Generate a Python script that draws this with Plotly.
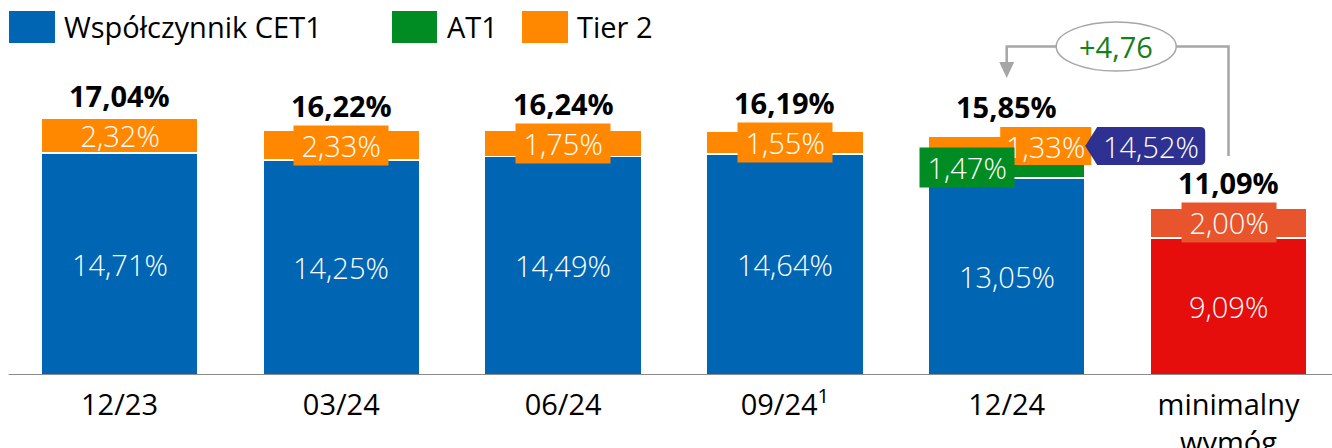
import plotly.graph_objects as go

# ---------------- data ----------------
categories = ["12/23", "03/24", "06/24", "09/24<sup>1</sup>", "12/24", "minimalny<br>wymóg"]
cet1 = [14.71, 14.25, 14.49, 14.64, 13.05, 9.09]
at1 = [0.00, 0.00, 0.00, 0.00, 1.47, 0.00]
tier2 = [2.32, 2.33, 1.75, 1.55, 1.33, 2.00]
totals = [17.04, 16.22, 16.24, 16.19, 15.85, 11.09]
tier1_1224 = 14.52
surplus = 4.76
legend_names = ["Współczynnik CET1", "AT1", "Tier 2"]

# ---------------- style ----------------
BLUE = "#0066B3"
GREEN = "#008C23"
ORANGE = "#FF8800"
RED = "#E60D0D"
ORANGE_RED = "#E8552D"
NAVY = "#2E3191"
GREY = "#A6A6A6"
TXT_GREEN = "#15801A"
FONT = "Open Sans"
FS = 29

W, H = 1332, 448
B_MARGIN = 73
PLOT_H = H - B_MARGIN
PX_PER_X = 221.8
PX_PER_Y = 15.08
X0 = -0.5388
X1 = X0 + W / PX_PER_X
Y1 = PLOT_H / PX_PER_Y
BAR_W = 157 / PX_PER_X


def dx(px):
    return px / PX_PER_X


def dy(px):
    return px / PX_PER_Y


def py2y(py):
    return (PLOT_H - py) / PX_PER_Y


def px2paper(px):
    return px / W


def py2paper(py):
    return 1 - py / PLOT_H


def fmt(v):
    return f"{v:.2f}".replace(".", ",") + "%"


NB = "\u00a0"
n = len(categories)
xs = list(range(n))
tier2_drawn = [round(totals[i] - cet1[i] - at1[i], 2) for i in range(n)]

fig = go.Figure()
line = dict(color="white", width=1.5)
fig.add_trace(go.Bar(x=xs, y=cet1, width=BAR_W, marker=dict(color=[BLUE] * (n - 1) + [RED], line=line),
                     hoverinfo="skip", showlegend=False))
fig.add_trace(go.Bar(x=xs, y=at1, width=BAR_W, marker=dict(color=GREEN, line=line),
                     hoverinfo="skip", showlegend=False))
fig.add_trace(go.Bar(x=xs, y=tier2_drawn, width=BAR_W,
                     marker=dict(color=[ORANGE] * (n - 1) + [ORANGE_RED], line=line),
                     hoverinfo="skip", showlegend=False))

shapes = []
ann = []
light = dict(family=FONT, size=FS, color="white", weight=300)

# CET1 labels
for i in range(n):
    ann.append(dict(x=i, y=cet1[i] / 2, text=fmt(cet1[i]), showarrow=False, font=light))

# Tier 2 labels + totals
for i in range(n):
    base = cet1[i] + at1[i]
    ymid = base + tier2_drawn[i] / 2
    col = ORANGE_RED if i == n - 1 else ORANGE
    if i == 4:
        shapes.append(dict(type="rect", xref="x", yref="y", x0=i + dx(-6.5), x1=i + dx(84.5),
                           y0=ymid - dy(19), y1=ymid + dy(19), fillcolor=ORANGE, line=dict(width=0),
                           layer="above"))
        ann.append(dict(x=i + dx(38.5), y=ymid, text=fmt(tier2[i]), showarrow=False, font=light))
    else:
        roomy = tier2_drawn[i] * PX_PER_Y >= 34
        a = dict(x=i, y=ymid, text=NB + fmt(tier2[i]) + NB, showarrow=False, font=light, borderpad=0)
        if not roomy:
            a["bgcolor"] = col
        ann.append(a)
    ann.append(dict(x=i, y=ymid, yshift=40, text="<b>" + fmt(totals[i]) + "</b>", showarrow=False,
                    font=dict(family=FONT, size=FS, color="black")))

# AT1 label (12/24)
ann.append(dict(x=4 + dx(-40), y=cet1[4] + at1[4] / 2, text=NB + fmt(at1[4]) + NB, showarrow=False,
                font=light, bgcolor=GREEN, borderpad=0))

# Tier 1 callout (12/24)
ym = cet1[4] + at1[4] + tier2_drawn[4] / 2
xt = 4 + dx(78.5)
xb = 4 + dx(90.5)
xr = 4 + dx(198.5)
rr = dx(5)
yt = ym + dy(19)
yb = ym - dy(19)
ry = dy(5)
path = (f"M {xt},{ym} L {xb},{yt} L {xr - rr},{yt} Q {xr},{yt} {xr},{yt - ry} "
        f"L {xr},{yb + ry} Q {xr},{yb} {xr - rr},{yb} L {xb},{yb} Z")
shapes.append(dict(type="path", xref="x", yref="y", path=path, fillcolor=NAVY, line=dict(width=0),
                   layer="above"))
ann.append(dict(x=4 + dx(144.5), y=ym, text=fmt(tier1_1224), showarrow=False, font=light))

# ellipse with surplus
exc = 4 + dx(109.5)
eyc = py2y(46.5)
erx = dx(60)
ery = dy(24.5)
shapes.append(dict(type="circle", xref="x", yref="y", x0=exc - erx, x1=exc + erx, y0=eyc - ery,
                   y1=eyc + ery, line=dict(color=GREY, width=1.5), fillcolor="white", layer="above"))
ann.append(dict(x=exc, y=eyc, text="+" + f"{surplus:.2f}".replace(".", ","), showarrow=False,
                font=dict(family=FONT, size=FS, color=TXT_GREEN)))
# connectors
shapes.append(dict(type="path", xref="x", yref="y", layer="above", line=dict(color=GREY, width=2.5),
                   path=f"M {exc - erx},{eyc} L 4,{eyc} L 4,{py2y(64)}"))
shapes.append(dict(type="path", xref="x", yref="y", layer="above", line=dict(width=0), fillcolor=GREY,
                   path=f"M {4 - dx(7.5)},{py2y(62)} L {4 + dx(7.5)},{py2y(62)} L 4,{py2y(78)} Z"))
shapes.append(dict(type="path", xref="x", yref="y", layer="above", line=dict(color=GREY, width=2.5),
                   path=f"M {exc + erx},{eyc} L 5,{eyc} L 5,{tier1_1224}"))

# baseline
shapes.append(dict(type="line", xref="x", yref="y", x0=-0.5, x1=5.5, y0=0, y1=0,
                   line=dict(color="#8C8C8C", width=2), layer="above"))

# legend
leg = [(9, 55, 62, BLUE), (392, 437, 445, GREEN), (522, 568, 575, ORANGE)]
for (a0, a1, tx, c), name in zip(leg, legend_names):
    shapes.append(dict(type="rect", xref="paper", yref="paper", x0=px2paper(a0), x1=px2paper(a1),
                       y0=py2paper(43), y1=py2paper(11), fillcolor=c, line=dict(width=0)))
    ann.append(dict(xref="paper", yref="paper", x=px2paper(tx), y=py2paper(27), xanchor="left",
                    yanchor="middle", text=name, showarrow=False,
                    font=dict(family=FONT, size=29, color="black")))

fig.update_layout(
    width=W, height=H, margin=dict(l=0, r=0, t=0, b=B_MARGIN, autoexpand=False),
    plot_bgcolor="white", paper_bgcolor="white", barmode="stack",
    shapes=shapes, annotations=ann, showlegend=False,
    xaxis=dict(range=[X0, X1], tickvals=xs, ticktext=categories, showgrid=False, zeroline=False,
               showline=False, ticks="", tickfont=dict(family=FONT, size=FS, color="black"),
               ticklabelstandoff=10, automargin=False, fixedrange=True),
    yaxis=dict(range=[0, Y1], visible=False, automargin=False, fixedrange=True),
)

fig.write_html(
    "out.html",
    config={"displayModeBar": False},
    post_script="document.body.style.margin='0px';document.body.style.overflow='hidden';",
)
